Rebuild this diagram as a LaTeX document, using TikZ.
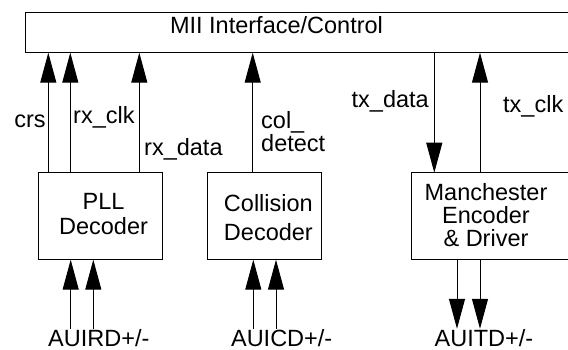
\documentclass[tikz,border=0pt]{standalone}
\usepackage{fontspec}
\setmainfont{Liberation Sans}
\usetikzlibrary{arrows.meta}

\begin{document}
\begin{tikzpicture}[x=1pt, y=-1pt,
    box/.style={draw, line width=1.3pt, inner sep=0pt, outer sep=0pt, anchor=north west},
    txt/.style={inner sep=0pt, font=\fontsize{23.5}{25}\selectfont},
    sig/.style={line width=1pt, -{Triangle[length=30pt,width=16pt]}},
    sigback/.style={line width=1pt, {Triangle[length=30pt,width=16pt]}-}]
    \useasboundingbox (0, 0) rectangle (568, 350);
    \node[box, minimum width=560pt, minimum height=40pt] (mii) at (25.7, 12.7) {};
    \node[box, minimum width=124pt, minimum height=87pt] (pll) at (38.3, 172.7) {};
    \node[box, minimum width=114.4pt, minimum height=87pt] (coll) at (207.3, 172.7) {};
    \node[box, minimum width=170pt, minimum height=87pt] (manch) at (411.7, 172.7) {};
    \node[txt, anchor=base] (miitxt) at (276.5, 33.3) {MII Interface/Control};
    \node[txt, align=center] (plltxt) at (103.5, 214) {PLL\\Decoder};
    \node[txt, align=center, font=\fontsize{23.5}{29}\selectfont] (colltxt) at (268.4, 217.9) {Collision\\Decoder};
    \node[txt, align=center, font=\fontsize{23.5}{23.4}\selectfont] (manchtxt) at (486, 215) {Manchester\\Encoder\\\& Driver};
    \node[txt, anchor=base] (crs) at (30, 127.3) {crs};
    \node[txt, anchor=base west] (rxclk) at (73, 124) {rx\_clk};
    \node[txt, anchor=base west] (rxdata) at (144, 156) {rx\_data};
    \node[txt, anchor=west, align=left, font=\fontsize{23.5}{19.4}\selectfont] (coldet) at (261, 131.4) {col\_\\detect};
    \node[txt, anchor=base east] (txdata) at (429, 108) {tx\_data};
    \node[txt, anchor=base west] (txclk) at (503, 112.7) {tx\_clk};
    \node[txt, anchor=base] (auird) at (98.8, 346) {AUIRD+/-};
    \node[txt, anchor=base] (auicd) at (281.7, 346) {AUICD+/-};
    \node[txt, anchor=base] (auitd) at (484, 346) {AUITD+/-};
    \foreach \dx in {10, 32, 101}
      \draw[sig] ([xshift=\dx pt]pll.north west) coordinate (t) -- (t |- mii.south);
    \draw[sig] ([xshift=45.4pt]coll.north west) coordinate (t) -- (t |- mii.south);
    \draw[sigback] ([xshift=22.6pt]manch.north west) coordinate (t) -- (t |- mii.south);
    \draw[sig] ([xshift=68.3pt]manch.north west) coordinate (t) -- (t |- mii.south);
    \foreach \dx in {32.4, 55}
      \draw[sigback] ([xshift=\dx pt]pll.south west) coordinate (t) -- (t |- auird.north);
    \foreach \dx in {46, 68.7}
      \draw[sigback] ([xshift=\dx pt]coll.south west) coordinate (t) -- (t |- auicd.north);
    \foreach \dx in {45.3, 68.3}
      \draw[sig] ([xshift=\dx pt]manch.south west) coordinate (t) -- (t |- auitd.north);
  \end{tikzpicture}
\end{document}
